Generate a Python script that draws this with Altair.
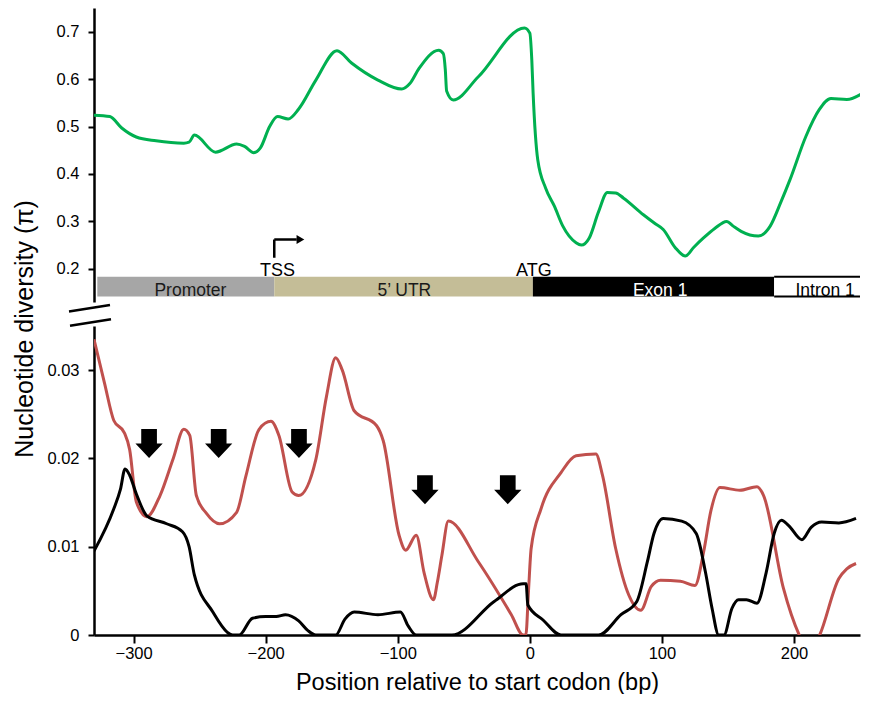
import altair as alt
import pandas as pd

# ---------------- data ----------------
green_x = [-330, -318, -309, -298, -283, -262, -258, -254, -238, -222, -216, -209, -204, -197, -191, -183, -175,
           -162, -146, -135, -115, -97, -91, -84, -69, -65.5, -64, -63, -58, -39, -4, 0, 1.5, 2.5, 6, 12, 18.6,
           25, 35, 39, 45, 52, 58.7, 65, 71, 86, 95, 101, 110, 117.7, 124, 131.5, 140, 149, 154, 160, 173, 182,
           190, 197, 209, 219, 228, 240, 253]
green_y = [0.524, 0.521, 0.497, 0.478, 0.470, 0.465, 0.467, 0.482, 0.446, 0.463, 0.458, 0.445, 0.455, 0.500, 0.521,
           0.516, 0.537, 0.598, 0.660, 0.634, 0.598, 0.579, 0.590, 0.622, 0.661, 0.654, 0.620, 0.575, 0.556, 0.605,
           0.708, 0.697, 0.640, 0.570, 0.430, 0.370, 0.332, 0.290, 0.255, 0.250, 0.265, 0.320, 0.361, 0.360, 0.349,
           0.314, 0.295, 0.283, 0.245, 0.227, 0.245, 0.265, 0.285, 0.300, 0.290, 0.279, 0.269, 0.290, 0.340,
           0.388, 0.479, 0.535, 0.559, 0.557, 0.572]

red_x = [-330, -322, -315, -307, -303, -298, -290, -280, -270, -262, -257.5, -252.5, -245, -235, -222, -215, -205,
         -196, -190, -180, -175, -162, -154, -147, -142, -133, -116, -111, -99, -94, -86, -80, -73, -70, -66.6,
         -61.7, -39, -14, -5, -3, -1, 1, 8.5, 23.6, 35, 50, 55, 65, 75, 84, 92, 99, 114, 125, 131.6, 137, 144,
         159, 172, 177, 192, 204, 212, 219.5, 234, 240, 247]
red_y = [0.0335, 0.0285, 0.0243, 0.0229, 0.0210, 0.0151, 0.0134, 0.0158, 0.0200, 0.0233, 0.0226, 0.0158, 0.0138,
         0.0126, 0.0139, 0.0180, 0.0233, 0.0242, 0.0226, 0.0162, 0.0158, 0.0199, 0.0270, 0.0314, 0.0300, 0.0254,
         0.0237, 0.0220, 0.0113, 0.0096, 0.0113, 0.0070, 0.0040, 0.0060, 0.0090, 0.0129, 0.0083, 0.0023, 0.0,
         0.0, 0.0050, 0.0098, 0.0143, 0.0184, 0.0203, 0.0205, 0.0181, 0.0098, 0.0045, 0.0028, 0.0055, 0.0062,
         0.0061, 0.0056, 0.0094, 0.0140, 0.0167, 0.0164, 0.0168, 0.0158, 0.0053, 0.0, -0.002, 0.0, 0.0064,
         0.0075, 0.0081]

black_x = [-330, -315, -310, -306.5, -303, -298, -290, -275, -263, -258, -254, -240, -229, -225, -220, -210, -200,
           -192, -185, -175, -168, -162, -147, -140, -133, -115, -98, -92, -86, -59, -27, -5, -2.8, -1.5, 10,
           23.6, 52, 69, 81, 89, 94, 101, 115, 126, 133, 138, 143, 147, 153, 158, 164, 172, 179, 185, 190.5,
           196, 206, 213, 221, 234, 247]
black_y = [0.0095, 0.0143, 0.0165, 0.0188, 0.0181, 0.0160, 0.0135, 0.0126, 0.0117, 0.0100, 0.0068, 0.0026, 0.0003,
           0.0, 0.0, 0.0019, 0.0021, 0.0021, 0.0023, 0.0016, 0.0005, 0.0, 0.0, 0.0018, 0.0026, 0.0023, 0.0026,
           0.0010, 0.0, 0.0, 0.0038, 0.0058, 0.0058, 0.0034, 0.0017, 0.0, 0.0, 0.0023, 0.0038, 0.0083, 0.0115,
           0.0132, 0.0129, 0.0115, 0.0071, 0.0030, 0.0, 0.0, 0.0030, 0.0040, 0.0040, 0.0036, 0.0071, 0.0115,
           0.0130, 0.0124, 0.0108, 0.0122, 0.0128, 0.0127, 0.0132]

arrow_x = [-288.3, -235.6, -174.8, -79.4, -16.7]
arrow_y = [0.0217, 0.0217, 0.0217, 0.01645, 0.01645]

region_names = ["Promoter", "5\u2019 UTR", "Exon 1", "Intron 1"]
region_start = [-327.5, -193.5, 2.3, 185]
region_end = [-193.5, 2.3, 185, 250]
region_fill = ["#a6a6a6", "#c4bd97", "#000000", "#ffffff"]
region_label_x = [-257, -95, 98.7, 223.6]
region_label_color = ["#1a1a1a", "#1a1a1a", "#ffffff", "#000000"]
bar_bottom = 0.1414
bar_top = 0.1834

site_names = ["TSS", "ATG"]
site_x = [-191, 3]
site_y = [0.1855, 0.1855]

tss_x = -193.5
tss_y = [0.2233, 0.2618]
tss_arrow_end = -176.5
tss_head_x = -173.7

FONT = "Liberation Sans"
X_DOMAIN = [-330, 250]
W = 766
H_TOP = 294
H_BOT = 309
xs = alt.Scale(domain=X_DOMAIN, nice=False, zero=False)
ys_top = alt.Scale(domain=[0.13, 0.75], nice=False, zero=False)
ys_bot = alt.Scale(domain=[0, 0.035], nice=False, zero=False)

top_y_axis = alt.Axis(values=[0.2, 0.3, 0.4, 0.5, 0.6, 0.7], format=".1f", title=None)
bot_y_axis = alt.Axis(values=[0, 0.01, 0.02, 0.03], format=".2~f", title=None)
bot_x_axis = alt.Axis(values=[-300, -200, -100, 0, 100, 200], title="Position relative to start codon (bp)",
                      titleY=54, titleBaseline="alphabetic")

# ---------------- top panel ----------------
green = pd.DataFrame({"x": green_x, "y": green_y})
regions = pd.DataFrame({"name": region_names, "start": region_start, "end": region_end, "fill": region_fill,
                        "lx": region_label_x, "lcol": region_label_color,
                        "y0": [bar_bottom] * 4, "y1": [bar_top] * 4})
sites = pd.DataFrame({"name": site_names, "x": site_x, "y": site_y})


def TX(field):
    return alt.X(field, scale=xs, axis=None)


def TY(field):
    return alt.Y(field, scale=ys_top, axis=top_y_axis)


rects = alt.Chart(regions).mark_rect().encode(
    x=TX("start:Q"), x2="end:Q", y=TY("y0:Q"), y2="y1:Q",
    color=alt.Color("fill:N", scale=None))

intron = regions[regions["name"] == "Intron 1"]
intron_lines = pd.DataFrame({"start": list(intron["start"]) * 2, "end": list(intron["end"]) * 2,
                             "y": [bar_bottom, bar_top]})
intron_rules = alt.Chart(intron_lines).mark_rule(color="black", strokeWidth=2).encode(
    x=TX("start:Q"), x2="end:Q", y=TY("y:Q"))

region_labels = alt.Chart(regions).mark_text(font=FONT, fontSize=17.5, baseline="alphabetic", dy=-1).encode(
    x=TX("lx:Q"), y=TY("y0:Q"), text="name:N", color=alt.Color("lcol:N", scale=None))

site_labels = alt.Chart(sites).mark_text(font=FONT, fontSize=18, baseline="alphabetic", color="black").encode(
    x=TX("x:Q"), y=TY("y:Q"), text="name:N")

tss_df = pd.DataFrame({"x": [tss_x], "y0": [tss_y[0]], "y1": [tss_y[1]], "xe": [tss_arrow_end], "xh": [tss_head_x]})
tss_v = alt.Chart(tss_df).mark_rule(color="black", strokeWidth=2.5).encode(
    x=TX("x:Q"), y=TY("y0:Q"), y2="y1:Q")
tss_h = alt.Chart(tss_df).mark_rule(color="black", strokeWidth=2.5).encode(
    x=TX("x:Q"), x2="xe:Q", y=TY("y1:Q"))
tss_head = alt.Chart(tss_df).mark_point(shape="triangle-right", filled=True, color="black", size=80,
                                        opacity=1).encode(x=TX("xh:Q"), y=TY("y1:Q"))

green_line = alt.Chart(green).mark_line(color="#00b050", strokeWidth=3, interpolate="monotone",
                                        clip=True).encode(x=TX("x:Q"), y=TY("y:Q"))

one = pd.DataFrame({"k": [0]})
break1 = alt.Chart(one).mark_rule(color="black", strokeWidth=2.5).encode(
    x=alt.value(-25), y=alt.value(303.6), x2=alt.value(16), y2=alt.value(297))
break2 = alt.Chart(one).mark_rule(color="black", strokeWidth=2.5).encode(
    x=alt.value(-24), y=alt.value(317.8), x2=alt.value(17), y2=alt.value(311.3))

top = alt.layer(rects, intron_rules, region_labels, site_labels, tss_v, tss_h, tss_head, green_line,
                break1, break2).properties(width=W, height=H_TOP)

# ---------------- bottom panel ----------------
red = pd.DataFrame({"x": red_x, "y": red_y})
black = pd.DataFrame({"x": black_x, "y": black_y})
arrows = pd.DataFrame({"x": arrow_x, "y": arrow_y})


def BX(field):
    return alt.X(field, scale=xs, axis=bot_x_axis)


def BY(field):
    return alt.Y(field, scale=ys_bot, axis=bot_y_axis)


red_line = alt.Chart(red).mark_line(color="#c0504d", strokeWidth=3, interpolate="monotone", clip=True).encode(
    x=BX("x:Q"), y=BY("y:Q"))
black_line = alt.Chart(black).mark_line(color="black", strokeWidth=3, interpolate="monotone", clip=True).encode(
    x=BX("x:Q"), y=BY("y:Q"))

ARROW = "M -0.575 -1.06 L 0.575 -1.06 L 0.575 0 L 1 0 L 0 1.06 L -1 0 L -0.575 0 Z"
arrow_marks = alt.Chart(arrows).mark_point(shape=ARROW, filled=True, color="black", opacity=1, size=745,
                                           strokeWidth=0).encode(x=BX("x:Q"), y=BY("y:Q"))

ytitle = alt.Chart(one).mark_text(text="Nucleotide diversity (\u03c0)", angle=270, font=FONT, fontSize=25,
                                  align="center", baseline="middle", color="black").encode(
    x=alt.value(-69), y=alt.value(3))

bottom = alt.layer(red_line, black_line, arrow_marks, ytitle).properties(width=W, height=H_BOT)

chart = alt.vconcat(top, bottom, spacing=24, bounds="flush").properties(
    padding={"left": 4, "top": 0, "right": 0, "bottom": 0}
).configure_view(stroke=None).configure_axis(
    labelFont=FONT, labelFontSize=16.5, labelColor="black",
    domainColor="black", domainWidth=2.5, tickColor="black", tickWidth=2, grid=False,
    titleFont=FONT, titleFontSize=23.5, titleFontWeight="normal", titleColor="black"
).configure_axisY(tickSize=6, labelPadding=9).configure_axisX(tickSize=8, labelPadding=2)

chart.save("out.html", embed_options={"renderer": "svg", "actions": False})
